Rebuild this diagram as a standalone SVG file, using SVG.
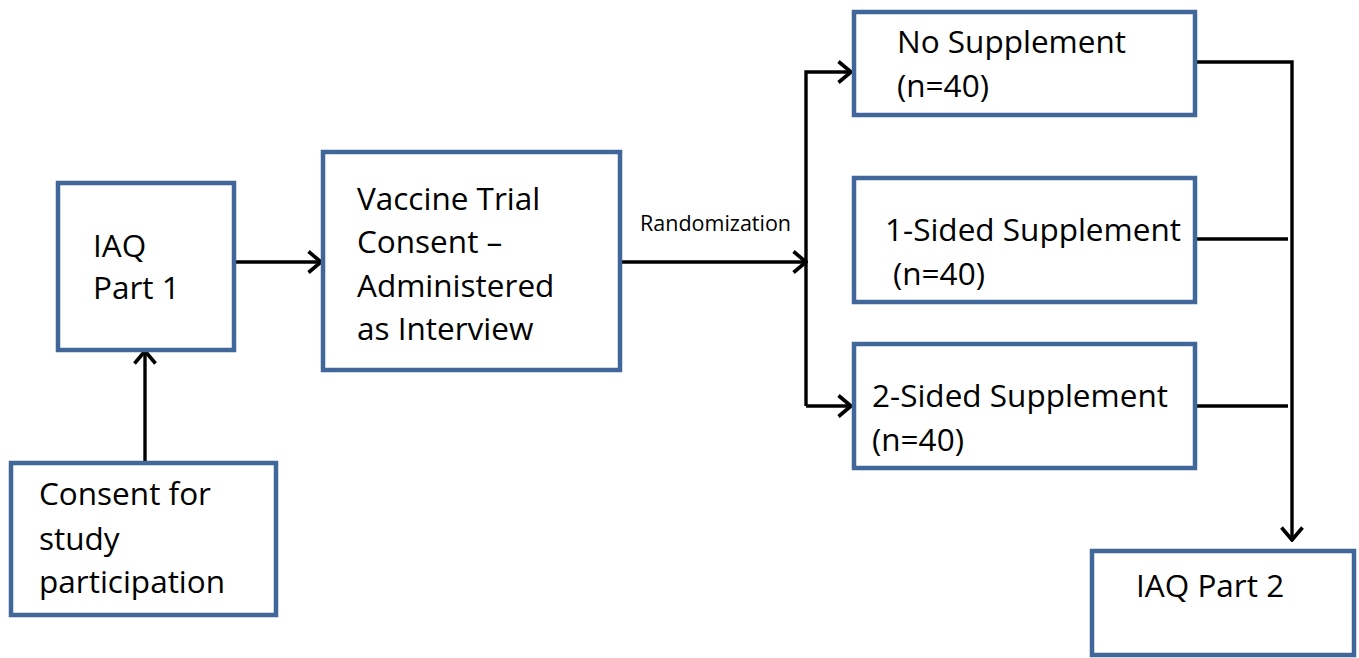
<svg xmlns="http://www.w3.org/2000/svg" width="1359" height="658" viewBox="0 0 1359 658">
<style>
.box{fill:#fff;stroke:#41679A;stroke-width:4.5}
.t{font-family:"Open Sans","Liberation Sans",sans-serif;font-size:31.5px;fill:#000}
.s{font-family:"Open Sans","Liberation Sans",sans-serif;font-size:21.5px;fill:#000}
.c{fill:none;stroke:#000;stroke-width:3.4}
</style>
<defs>
<marker id="ah" markerUnits="userSpaceOnUse" viewBox="0 0 16 24" refX="14" refY="12" markerWidth="16" markerHeight="24" orient="auto">
<path d="M1.5,1.5 L14,12 L1.5,22.5" fill="none" stroke="#000" stroke-width="3.6"/>
</marker>
</defs>
<rect width="1359" height="658" fill="#fff"/>
<g id="connectors">
<line class="c" x1="145" y1="462" x2="145" y2="351" marker-end="url(#ah)"/>
<line class="c" x1="234" y1="262" x2="321" y2="262" marker-end="url(#ah)"/>
<line class="c" x1="620" y1="262" x2="806" y2="262" marker-end="url(#ah)"/>
<polyline class="c" points="806,406 806,72 851,72" marker-end="url(#ah)"/>
<polyline class="c" points="806,406 851,406" marker-end="url(#ah)"/>
<polyline class="c" points="1195,62 1292,62 1292,540" marker-end="url(#ah)"/>
<line class="c" x1="1195" y1="239" x2="1288" y2="239"/>
<line class="c" x1="1195" y1="406" x2="1288" y2="406"/>
<text class="s" x="640" y="231">Randomization</text>
</g>
<g id="iaq1">
<rect class="box" x="58" y="183" width="176" height="167"/>
<text class="t" x="93" y="257">IAQ</text>
<text class="t" x="93" y="299">Part 1</text>
</g>
<g id="consent">
<rect class="box" x="11" y="463" width="265" height="152"/>
<text class="t" x="39" y="505">Consent for</text>
<text class="t" x="39" y="550">study</text>
<text class="t" x="39" y="593">participation</text>
</g>
<g id="vaccine">
<rect class="box" x="323" y="152" width="297" height="218"/>
<text class="t" x="357" y="210">Vaccine Trial</text>
<text class="t" x="357" y="253">Consent –</text>
<text class="t" x="357" y="297">Administered</text>
<text class="t" x="357" y="340">as Interview</text>
</g>
<g id="nosupp">
<rect class="box" x="854" y="12" width="341" height="103"/>
<text class="t" x="897" y="53">No Supplement</text>
<text class="t" x="897" y="97">(n=40)</text>
</g>
<g id="onesided">
<rect class="box" x="854" y="178" width="341" height="124"/>
<text class="t" x="885" y="241">1-Sided Supplement</text>
<text class="t" x="893" y="285">(n=40)</text>
</g>
<g id="twosided">
<rect class="box" x="854" y="344" width="341" height="124"/>
<text class="t" x="872" y="407">2-Sided Supplement</text>
<text class="t" x="872" y="451">(n=40)</text>
</g>
<g id="iaq2">
<rect class="box" x="1092" y="551" width="262" height="104"/>
<text class="t" x="1136" y="597">IAQ Part 2</text>
</g>
</svg>
